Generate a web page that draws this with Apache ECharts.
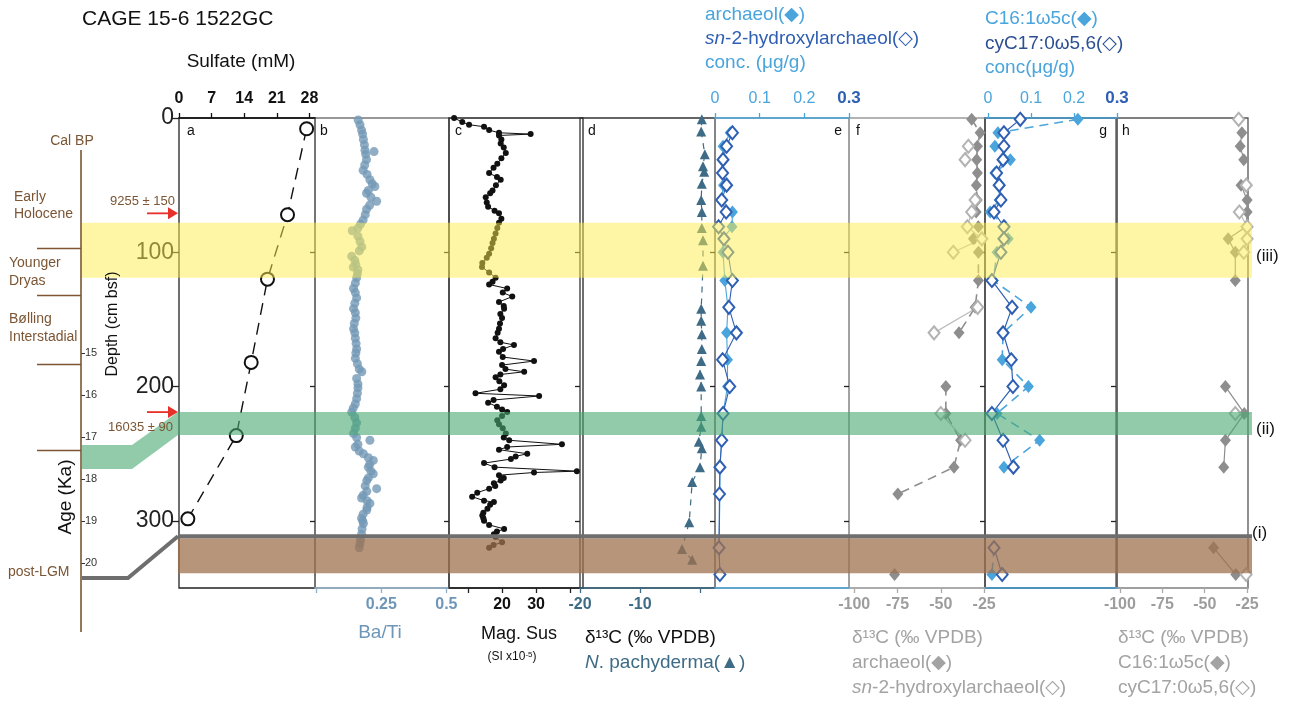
<!DOCTYPE html>
<html><head><meta charset="utf-8">
<script src="https://cdn.jsdelivr.net/npm/echarts@6/dist/echarts.min.js"></script>
<style>html,body{margin:0;padding:0;background:#fff}#c{width:1295px;height:702px}</style>
</head><body><div id="c"></div>
<script>
// ---------------- DATA ----------------
const depthTicks = [0, 100, 200, 300];
const ageTicks = [15, 16, 17, 18, 19, 20];
const sulfateTicks = [0, 7, 14, 21, 28];
const baTiTicks = [0, 0.25, 0.5];
const baTiLabels = [0.25, 0.5];
const magSusTicks = [10, 20, 30, 40];
const magSusLabels = [20, 30];
const pachyTicks = [-20, -10, 0];
const pachyLabels = [-20, -10];
const concTicks = [0, 0.1, 0.2, 0.3];
const d13CTicks = [-100, -75, -50, -25];

const sulfateDepth = [8, 72, 120, 182, 236.5, 298.5];
const sulfateConc = [27.4, 23.3, 19.0, 15.5, 12.3, 1.9];

const baTiDepth = [1.5,5,9,12,16,20,24,25,27,31,35,39,42,46,49,51,54,56,59,62,65,68,72,76,79,82,84,88,92,96,99,103,106,109,111,113,116,119,123,127,130,134,138,142,145,149,153,157,160,164,168,172,175,179,183,187,189,194,198,201,205,209,213,216,219,223,227,231,235,238,240,243,245,248,250,253,255,258,260,263,265,268,270,274,276,278,281,283,285,287,290,292,295,298,300,302,306,310,314,317,320];
const baTi = [0.161,0.168,0.174,0.178,0.181,0.185,0.187,0.222,0.19,0.193,0.186,0.18,0.195,0.206,0.215,0.225,0.2,0.193,0.21,0.232,0.205,0.193,0.188,0.18,0.17,0.16,0.138,0.16,0.168,0.175,0.165,0.136,0.148,0.152,0.142,0.16,0.158,0.155,0.15,0.143,0.15,0.155,0.148,0.143,0.15,0.152,0.146,0.143,0.148,0.15,0.153,0.155,0.152,0.15,0.158,0.165,0.175,0.155,0.16,0.16,0.158,0.155,0.15,0.142,0.136,0.148,0.155,0.15,0.143,0.155,0.206,0.16,0.15,0.165,0.181,0.2,0.219,0.205,0.2,0.21,0.219,0.2,0.194,0.188,0.232,0.194,0.18,0.174,0.195,0.206,0.195,0.194,0.18,0.174,0.178,0.181,0.176,0.174,0.17,0.168,0.165];

const magSusDepth = [0,3,5,6.5,9,11,12,13,16,19,22,26,30,34,37,41,44,46,50,54,56,59,63,66,69,71,75,78,82,86,90,93,97,101,104,108,111,115,119,122,124,127,130,133,137,140,142,146,149,153,157,160,164,167,169,172,174,178,181,184,187,189,191,193,196,199,202,205,207,210,212,215,217,219,222,225,228,231,235,238,240,243,245,247,250,252,254,257,260,263,264,266,268,270,272,274,276,279,282,285,286,288,291,294,296,298,300,303,306,308,310,312,316,318,320];
const magSus = [5.9,8.3,10.3,14.7,16.2,19.1,28.4,19.1,19.8,19.6,20.5,21.1,19.8,18.6,17.5,16.2,18.5,19.6,18.2,17.2,16.5,15.2,15.5,15.9,17.8,19.1,19.8,19.1,18.6,18.1,17.6,17.2,16.8,16.2,15.5,14.2,14.1,16.2,18.1,17.2,16.2,21.5,20.2,23,19.1,20.5,20.6,19.5,20,19.4,19.1,18.7,18.1,19.5,23.5,20.3,19.1,20.2,29.4,20,21,26.5,19.5,18.1,19.2,20.6,19.5,12.2,30.9,17.5,15.9,18.5,20,21.5,20,18.6,19.1,20.2,21.1,20.5,22.1,37.6,21.5,19.1,27.4,24,22.6,14.7,17.8,42,29.4,19.1,20.5,19.6,17.6,18,16.2,12.7,11.2,14.7,17.6,16.5,15.7,14.5,14.2,14.5,14.7,16.2,20.6,18.5,17.6,18.1,20,17.5,16.2];

const pachyDepth = [1,10,27,36,40,49,61,70,82,91,110,142,151,161,172,181,191,200,222,230,241,246,260,271,301,321,329];
const pachyD13C = [0.3,0.2,0.8,0.5,0.7,0.3,0.2,0.3,0.3,0.5,0.5,0.2,0.2,0.3,0.3,0.2,0.0,0.2,0.2,0.2,-0.2,0.3,0.0,-1.3,-1.8,-3.0,-1.3];

const lipidDepth = [1,11,21,31,41,50,61,70,81,90,100,121,141,160,180,200,220,240,260,280,320,340];
const archaeolConc = [null,0.034,0.018,0.017,0.015,0.019,0.014,0.039,0.038,0.018,0.018,0.022,0.029,0.026,0.028,0.028,0.018,0.015,0.011,0.011,0.009,0.011];
const hydroxyConc  = [null,0.039,0.026,0.018,0.017,0.026,0.015,0.025,0.008,0.020,0.029,0.039,0.031,0.048,0.017,0.033,0.018,0.015,0.011,0.010,0.009,0.011];
const archaeolD13C = [-32.2,-27.3,-28.9,-29.3,-28.9,-29.5,-29.0,-29.6,-28.3,-31.2,-28.3,-28.3,-30.2,-39.5,null,-47.1,-47.1,-38.6,-42.4,-74.8,null,-76.7];
const hydroxyD13C  = [null,null,-34.1,-36,null,null,-30.2,-32.2,-34.7,-26.3,-42.8,null,-28.7,-53.9,null,null,-50,-36,null,null,null,null];
const c16Conc   = [0.209,0.023,0.016,0.052,0.016,0.028,0.026,0.005,0.04,0.047,0.021,0.012,0.1,0.035,0.033,0.094,0.021,0.12,0.037,null,0.014,0.009];
const cyc17Conc = [0.075,0.037,0.037,0.035,0.02,0.026,0.03,0.014,0.037,0.037,0.03,0.009,0.056,0.035,0.054,0.058,0.009,0.035,0.059,null,0.014,0.033];
const c16D13C   = [null,-28.1,-29.1,-27,null,-28.6,-25,-25,-25.6,-36.2,-32,-32,null,null,null,-37.8,-26.7,-37.8,-38.8,null,-44.8,-31.7];
const cyc17D13C = [-30,null,null,null,null,-25.5,null,-29.6,-25,-25,-27,null,null,null,null,null,-32,null,null,null,null,-25.6];

const yellowBand = [78, 119];
const greenBand = [219, 236];
const greyLineBand = [310, 313];
const brownBand = [313, 339];
const greenBandAges = [17.19, 17.76];
const greyLineAge = 20.36;
const periodBoundaryAges = [12.5, 13.62, 15.26, 17.31];
const arrowDepths = [71, 219];
const arrowLabels = ['9255 ± 150', '16035 ± 90'];

// ---------------- STYLE ----------------
const FONT = "'Liberation Sans', Arial, 'DejaVu Sans', sans-serif";
const LBLUE = '#4aa5dc', DBLUE = '#2f5fb3', GREY = '#8e8e8e', LGREY = '#b3b3b3';
const STEEL = '#6d96b8', PACHY = '#3e6b85', BROWN = '#7b5534';
const TOP = 118, H = 470;

const pairs = (vals, depths) => vals.map((v, i) => [v === null ? '-' : v, depths[i]]);

const gridDefs = [
  {left:179, width:136, border:'#222'},  // a
  {left:315, width:134, border:'#777'},  // b
  {left:449, width:134, border:'#222'},  // c
  {left:580, width:135, border:'#333'},  // d
  {left:715, width:134, border:'#8a8a8a'}, // e
  {left:849, width:136, border:'#9a9a9a'}, // f
  {left:985, width:132, border:'#222'},  // g
  {left:1116, width:132, border:'#555'}  // h
];
const grids = gridDefs.map(g => ({left:g.left, width:g.width, top:TOP, height:H, show:true,
  borderColor:g.border, borderWidth:1.3, backgroundColor:'transparent'}));
grids.push({left:76, width:5, top:353, height:210});       // 8 age axis
grids.push({left:82, width:1170, top:TOP, height:H});      // 9 bands

function xAx(gi, pos, min, max, ticks, labels, color, lineColor, extra) {
  return Object.assign({
    type:'value', gridIndex:gi, position:pos, min, max,
    axisLine:{show:true, onZero:false, lineStyle:{color:lineColor, width:1.6}},
    axisTick:{show:true, length:5, customValues:ticks, lineStyle:{color:lineColor, width:1.3}},
    axisLabel:{show:true, customValues:labels, color, fontSize:16, fontWeight:'bold', fontFamily:FONT, margin:pos==='top'?11:9},
    splitLine:{show:false}
  }, extra || {});
}
const concFmt = {
  formatter: v => (Math.abs(v - 0.3) < 1e-9 ? '{b|0.3}' : '{n|' + (+(+v).toFixed(1)) + '}'),
  rich:{b:{color:DBLUE, fontWeight:'bold', fontSize:17, fontFamily:FONT}, n:{color:LBLUE, fontWeight:'normal', fontSize:16, fontFamily:FONT}}
};
const xAxes = [
  xAx(0,'top',0,29.2,sulfateTicks,sulfateTicks,'#111','#111'),
  xAx(1,'bottom',-0.005,0.51,baTiTicks,baTiLabels,STEEL,'#8fb0c8'),
  xAx(2,'bottom',4.4,43.8,magSusTicks,magSusLabels,'#111','#222'),
  xAx(3,'bottom',-20,2.5,pachyTicks,pachyLabels,PACHY,PACHY),
  xAx(4,'top',0,0.3,concTicks,concTicks,LBLUE,LBLUE),
  xAx(5,'bottom',-103,-24.5,d13CTicks,d13CTicks,'#9d9d9d','#aaa'),
  xAx(6,'top',-0.007,0.3,concTicks,concTicks,LBLUE,LBLUE),
  xAx(7,'bottom',-102.3,-24.5,d13CTicks,d13CTicks,'#9d9d9d','#aaa'),
  {type:'value', gridIndex:8, show:false, min:0, max:1},
  {type:'value', gridIndex:9, show:false, min:0, max:1},
  {type:'value', gridIndex:4, position:'bottom', min:0, max:0.3, axisLine:{show:true,onZero:false,lineStyle:{color:LBLUE,width:1.6}}, axisTick:{show:false}, axisLabel:{show:false}, splitLine:{show:false}},
  {type:'value', gridIndex:6, position:'bottom', min:0, max:0.3, axisLine:{show:true,onZero:false,lineStyle:{color:LBLUE,width:1.6}}, axisTick:{show:false}, axisLabel:{show:false}, splitLine:{show:false}}
];
xAxes[4].axisLabel = Object.assign(xAxes[4].axisLabel, concFmt);
xAxes[6].axisLabel = Object.assign(xAxes[6].axisLabel, concFmt);

const yAxes = [];
for (let gi = 0; gi < 8; gi++) {
  const lab = gi === 0;
  yAxes.push({type:'value', gridIndex:gi, min:0, max:350, inverse:true, position:'left',
    axisLine:{show:false, onZero:false}, splitLine:{show:false},
    axisTick:{show:true, length: lab ? 8 : 5, customValues: lab ? depthTicks : depthTicks.slice(1), lineStyle:{color:'#222', width:1.3}},
    axisLabel:{show:lab, customValues:depthTicks, fontSize:23, color:'#222', margin:5, fontFamily:FONT}});
}
yAxes.push({type:'value', gridIndex:8, min:15, max:20, inverse:true, position:'right',
  axisLine:{show:false, onZero:false}, splitLine:{show:false},
  axisTick:{show:true, length:4, customValues:ageTicks, lineStyle:{color:'#333'}},
  axisLabel:{show:true, customValues:ageTicks, fontSize:11, color:'#333', margin:4, fontFamily:FONT}});
yAxes.push({type:'value', gridIndex:9, min:0, max:350, inverse:true, show:false});

function lineSeries(name, xi, yi, data, o) {
  return Object.assign({name, type:'line', xAxisIndex:xi, yAxisIndex:yi, data, clip:false, z:3,
    animation:false, connectNulls:false}, o);
}
const diamondSize = [11, 13];
const series = [
  lineSeries('Sulfate', 0, 0, pairs(sulfateConc, sulfateDepth), {symbol:'emptyCircle', symbolSize:13,
    itemStyle:{color:'#111', borderWidth:1.5}, lineStyle:{color:'#111', width:1.4, type:[12,8]}}),
  {name:'Ba/Ti', type:'scatter', xAxisIndex:1, yAxisIndex:1, data:pairs(baTi, baTiDepth), symbolSize:9,
    itemStyle:{color:'#7399b5'}, z:3, animation:false},
  lineSeries('Mag. Sus', 2, 2, pairs(magSus, magSusDepth), {symbol:'circle', symbolSize:6,
    itemStyle:{color:'#111'}, lineStyle:{color:'#111', width:1}}),
  lineSeries('N. pachyderma', 3, 3, pairs(pachyD13C, pachyDepth), {symbol:'triangle', symbolSize:10,
    itemStyle:{color:PACHY}, lineStyle:{color:PACHY, width:1.2, type:[6,6]}}),
  lineSeries('archaeol conc', 4, 4, pairs(archaeolConc, lipidDepth), {symbol:'diamond', symbolSize:diamondSize,
    itemStyle:{color:LBLUE}, lineStyle:{color:LBLUE, width:1.1}}),
  lineSeries('sn-2-hydroxyarchaeol conc', 4, 4, pairs(hydroxyConc, lipidDepth), {symbol:'emptyDiamond', symbolSize:diamondSize,
    itemStyle:{color:DBLUE, borderWidth:1}, lineStyle:{color:DBLUE, width:1.1}}),
  lineSeries('archaeol d13C', 5, 5, pairs(archaeolD13C, lipidDepth), {symbol:'diamond', symbolSize:diamondSize,
    itemStyle:{color:GREY}, lineStyle:{color:GREY, width:1.6, type:[9,6]}}),
  lineSeries('sn-2-hydroxyarchaeol d13C', 5, 5, pairs(hydroxyD13C, lipidDepth), {symbol:'emptyDiamond', symbolSize:diamondSize,
    itemStyle:{color:LGREY, borderWidth:1}, lineStyle:{color:'#bdbdbd', width:1.2}}),
  lineSeries('C16 conc', 6, 6, pairs(c16Conc, lipidDepth), {symbol:'diamond', symbolSize:diamondSize,
    itemStyle:{color:LBLUE}, lineStyle:{color:LBLUE, width:1.6, type:[9,6]}}),
  lineSeries('cyC17 conc', 6, 6, pairs(cyc17Conc, lipidDepth), {symbol:'emptyDiamond', symbolSize:diamondSize,
    itemStyle:{color:DBLUE, borderWidth:1}, lineStyle:{color:DBLUE, width:1.2}}),
  lineSeries('C16 d13C', 7, 7, pairs(c16D13C, lipidDepth), {symbol:'diamond', symbolSize:diamondSize,
    itemStyle:{color:GREY}, lineStyle:{color:GREY, width:1.2}}),
  lineSeries('cyC17 d13C', 7, 7, pairs(cyc17D13C, lipidDepth), {symbol:'emptyDiamond', symbolSize:diamondSize,
    itemStyle:{color:LGREY, borderWidth:1}, lineStyle:{color:'#bdbdbd', width:1.2}}),
  {name:'bands', type:'line', xAxisIndex:9, yAxisIndex:9, data:[], z:10, silent:true, animation:false,
    markArea:{silent:true, z:20, animation:false, data:[
      [{xAxis:0, yAxis:yellowBand[0], itemStyle:{color:'rgba(255,237,75,0.5)'}}, {xAxis:1, yAxis:yellowBand[1]}],
      [{xAxis:0.082, yAxis:greenBand[0], itemStyle:{color:'rgba(72,168,113,0.6)'}}, {xAxis:1, yAxis:greenBand[1]}],
      [{xAxis:0.082, yAxis:brownBand[0], itemStyle:{color:'rgba(159,114,79,0.75)'}}, {xAxis:1, yAxis:brownBand[1]}],
      [{xAxis:0.082, yAxis:greyLineBand[0], itemStyle:{color:'#6e6e6e'}}, {xAxis:1, yAxis:greyLineBand[1]}]
    ]}}
];

const chart = echarts.init(document.getElementById('c'), null, {renderer:'canvas'});
chart.setOption({animation:false, backgroundColor:'#fff', grid:grids, xAxis:xAxes, yAxis:yAxes, series});

// ---------------- ANNOTATIONS ----------------
const ageY = a => chart.convertToPixel({gridIndex:8}, [0, a])[1];
const depY = d => chart.convertToPixel({gridIndex:9}, [0, d])[1];
function T(text, x, y, o) {
  o = o || {};
  return {type:'text', x, y, z:100, rotation:o.rot || 0, silent:true,
    style:{text, fill:o.color || '#111', fontSize:o.size || 14, fontFamily:FONT, fontWeight:o.weight || 'normal',
      align:o.align || 'left', verticalAlign:'middle', rich:o.rich}};
}
const itRich = (c, s) => ({i:{fontStyle:'italic', fill:c, color:c, fontSize:s, fontFamily:FONT}});
const G = [];
G.push(T('CAGE 15-6 1522GC', 82, 19, {size:21}));
G.push(T('Sulfate (mM)', 241, 62, {size:19, align:'center'}));
G.push(T('archaeol(◆)', 705, 15, {size:19, color:LBLUE}));
G.push(T('{i|sn}-2-hydroxylarchaeol(◇)', 705, 39, {size:19, color:DBLUE, rich:itRich(DBLUE,19)}));
G.push(T('conc. (μg/g)', 705, 63, {size:19, color:LBLUE}));
G.push(T('C16:1ω5c(◆)', 985, 19, {size:19, color:LBLUE}));
G.push(T('cyC17:0ω5,6(◇)', 985, 44, {size:19, color:'#2b4f93'}));
G.push(T('conc(μg/g)', 985, 68, {size:19, color:LBLUE}));
G.push(T('Ba/Ti', 380, 633, {size:19, color:STEEL, align:'center'}));
G.push(T('Mag. Sus', 519, 634, {size:18, align:'center'}));
G.push(T('(SI x10{s|-5})', 512, 657, {size:12, align:'center', rich:{s:{fontSize:8, verticalAlign:'top', fill:'#111', fontFamily:FONT}}}));
G.push(T('δ¹³C (‰ VPDB)', 585, 638, {size:19}));
G.push(T('{i|N}. pachyderma(▲)', 585, 663, {size:19, color:PACHY, rich:itRich(PACHY,19)}));
G.push(T('δ¹³C (‰ VPDB)', 852, 638, {size:19, color:'#a3a3a3'}));
G.push(T('archaeol(◆)', 852, 663, {size:19, color:'#a3a3a3'}));
G.push(T('{i|sn}-2-hydroxylarchaeol(◇)', 852, 688, {size:19, color:'#a3a3a3', rich:itRich('#a3a3a3',19)}));
G.push(T('δ¹³C (‰ VPDB)', 1118, 638, {size:19, color:'#a3a3a3'}));
G.push(T('C16:1ω5c(◆)', 1118, 663, {size:19, color:'#a3a3a3'}));
G.push(T('cyC17:0ω5,6(◇)', 1118, 688, {size:19, color:'#a3a3a3'}));
[['a',187,'left'],['b',320,'left'],['c',455,'left'],['d',588,'left'],['e',842,'right'],['f',856,'left'],['g',1107,'right'],['h',1122,'left']]
  .forEach(([t,x,al]) => G.push(T(t, x, 131, {size:14, align:al})));
G.push(T('(iii)', 1256, 256, {size:17}));
G.push(T('(ii)', 1256, 429, {size:17}));
G.push(T('(i)', 1252, 533, {size:17}));
G.push(T('Cal BP', 72, 141, {size:14, color:BROWN, align:'center'}));
G.push(T('Early', 14, 197, {size:14, color:BROWN}));
G.push(T('Holocene', 14, 214, {size:14, color:BROWN}));
G.push(T('Younger', 9, 263, {size:14, color:BROWN}));
G.push(T('Dryas', 9, 281, {size:14, color:BROWN}));
G.push(T('Bølling', 9, 319, {size:14, color:BROWN}));
G.push(T('Interstadial', 9, 337, {size:14, color:BROWN}));
G.push(T('post-LGM', 8, 572, {size:14, color:BROWN}));
G.push(T('Age (Ka)', 66, 497, {size:19, align:'center', rot:Math.PI/2}));
G.push(T('Depth (cm bsf)', 113, 324, {size:16, align:'center', rot:Math.PI/2}));
G.push({type:'line', z:100, silent:true, shape:{x1:81, y1:150, x2:81, y2:632}, style:{stroke:BROWN, lineWidth:1.6}});
periodBoundaryAges.forEach(a => {
  const y = Math.round(ageY(a)) + 0.5;
  G.push({type:'line', z:100, silent:true, shape:{x1:37, y1:y, x2:81, y2:y}, style:{stroke:BROWN, lineWidth:1.6}});
});
const gA0 = ageY(greenBandAges[0]), gA1 = ageY(greenBandAges[1]);
const gD0 = depY(greenBand[0]), gD1 = depY(greenBand[1]);
G.push({type:'polygon', z:20, silent:true, shape:{points:[[82,gA0],[132,gA0],[178,gD0],[178,gD1],[132,gA1],[82,gA1]]},
  style:{fill:'rgba(72,168,113,0.6)'}});
const gl = ageY(greyLineAge), gd = depY((greyLineBand[0] + greyLineBand[1]) / 2);
G.push({type:'polyline', z:21, silent:true, shape:{points:[[82,gl],[128,gl],[178,gd]]}, style:{stroke:'#6e6e6e', lineWidth:4, fill:null}});
arrowDepths.forEach((d, i) => {
  const y = depY(d);
  G.push({type:'line', z:100, silent:true, shape:{x1:147, y1:y, x2:170, y2:y}, style:{stroke:'#e8302a', lineWidth:1.8}});
  G.push({type:'polygon', z:100, silent:true, shape:{points:[[168,y-6],[178,y],[168,y+6]]}, style:{fill:'#e8302a'}});
  G.push(T(arrowLabels[i], i === 0 ? 175 : 173, i === 0 ? y - 12 : y + 15, {size:13, color:BROWN, align:'right'}));
});
chart.setOption({graphic:G});
</script>
</body></html>
